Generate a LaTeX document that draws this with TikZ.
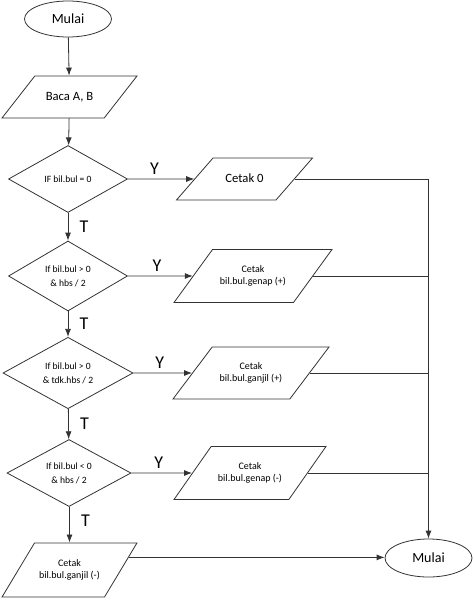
\documentclass[tikz,border=0pt]{standalone}
\usepackage{fontspec}
\setmainfont{Carlito}
\usetikzlibrary{shapes.geometric,arrows.meta}
\tikzset{
  term/.style={ellipse, draw, inner sep=0pt, minimum width=65.25pt, font=\fontsize{10.5}{12}\selectfont},
  io/.style 2 args={trapezium, draw, trapezium left angle=#1, trapezium right angle=#2,
    trapezium stretches body, inner xsep=0pt, inner ysep=11.75pt, align=center, font=\fontsize{7.5}{9.5}\selectfont},
  big/.style={font=\fontsize{9.5}{11}\selectfont, text height=6.6pt, text depth=1.4pt},
  cond/.style={diamond, draw, inner sep=0pt, align=center, font=\fontsize{7.2}{10.5}\selectfont},
  yt/.style={font=\fontsize{13.5}{13.5}\selectfont},
}
\begin{document}
\begin{tikzpicture}[x=0.75pt, y=-0.75pt, >={Latex[length=6pt,width=4.5pt]}, line width=0.6pt, draw=black!80]
\useasboundingbox (0,0) rectangle (474,603);
% Left column: start, input and the four tests
\node[term, minimum height=27pt] (mulaia) at (68,19) {Mulai};
\node[io={52}{128}, big, minimum width=101.25pt] (baca) at (69.5,97) {Baca A, B};
\node[cond, minimum width=89.25pt, minimum height=50.25pt] (ifa) at (68,179) {IF bil.bul = 0};
\node[cond, minimum width=89.25pt, minimum height=52.5pt] (ifb) at (68,276) {If bil.bul > 0\\\& hbs / 2};
\node[cond, minimum width=97.5pt, minimum height=50.25pt] (ifc) at (68,373) {If bil.bul > 0\\\& tdk.hbs / 2};
\node[cond, minimum width=93pt, minimum height=50.25pt] (ifd) at (69,473) {If bil.bul < 0\\\& hbs / 2};
\node[io={59}{121}, inner ysep=12.3pt, minimum width=101.25pt] (cetake) at (69.5,570) {Cetak\\bil.bul.ganjil (-)};

% Right column: the outputs and the end
\node[io={49}{131}, big, minimum width=102pt] (cetaka) at (244.5,179) {Cetak 0};
\node[io={54}{126}, inner ysep=11.9pt, minimum width=118.5pt] (cetakb) at (253,276) {Cetak\\bil.bul.genap (+)};
\node[io={53}{127}, inner ysep=11.5pt, minimum width=117pt] (cetakc) at (251,373) {Cetak\\bil.bul.ganjil (+)};
\node[io={55}{125}, inner ysep=11.9pt, minimum width=114pt] (cetakd) at (250,473) {Cetak\\bil.bul.genap (-)};
\node[term, minimum height=28.5pt] (mulaib) at (428.5,558) {Mulai};

% Down the left column
\draw[->] (mulaia) -- (baca);
\draw[->] (baca) -- (ifa);
\draw[->] (ifa) -- node[yt, right=5pt] {T} (ifb);
\draw[->] (ifb) -- node[yt, right=5pt] {T} (ifc);
\draw[->] (ifc) -- node[yt, right=5pt] {T} (ifd);
\draw[->] (ifd.south -| cetake) -- node[yt, right=5pt, pos=0.4] {T} (cetake);

% Yes branches
\draw[->] (ifa.east) -- node[yt, above, pos=0.4] {Y} (cetaka.west);
\draw[->] (ifb.east) -- node[yt, above, pos=0.45] {Y} (cetakb.west);
\draw[->] (ifc.east) -- node[yt, above, pos=0.45] {Y} (cetakc.west);
\draw[->] (ifd.east) -- node[yt, above, pos=0.45] {Y} (cetakd.west);

% Collect everything into the end
\coordinate (gabung) at (cetaka.east -| mulaib.north);
\draw (cetaka.east) -- (gabung);
\draw (cetakb.east) -- (cetakb.east -| gabung);
\draw (cetakc.east) -- (cetakc.east -| gabung);
\draw (cetakd.east) -- (cetakd.east -| gabung);
\draw[->] (gabung) -- (mulaib.north);
\draw[->] (cetake.12) -- (cetake.12 -| mulaib.west);
\end{tikzpicture}
\end{document}
